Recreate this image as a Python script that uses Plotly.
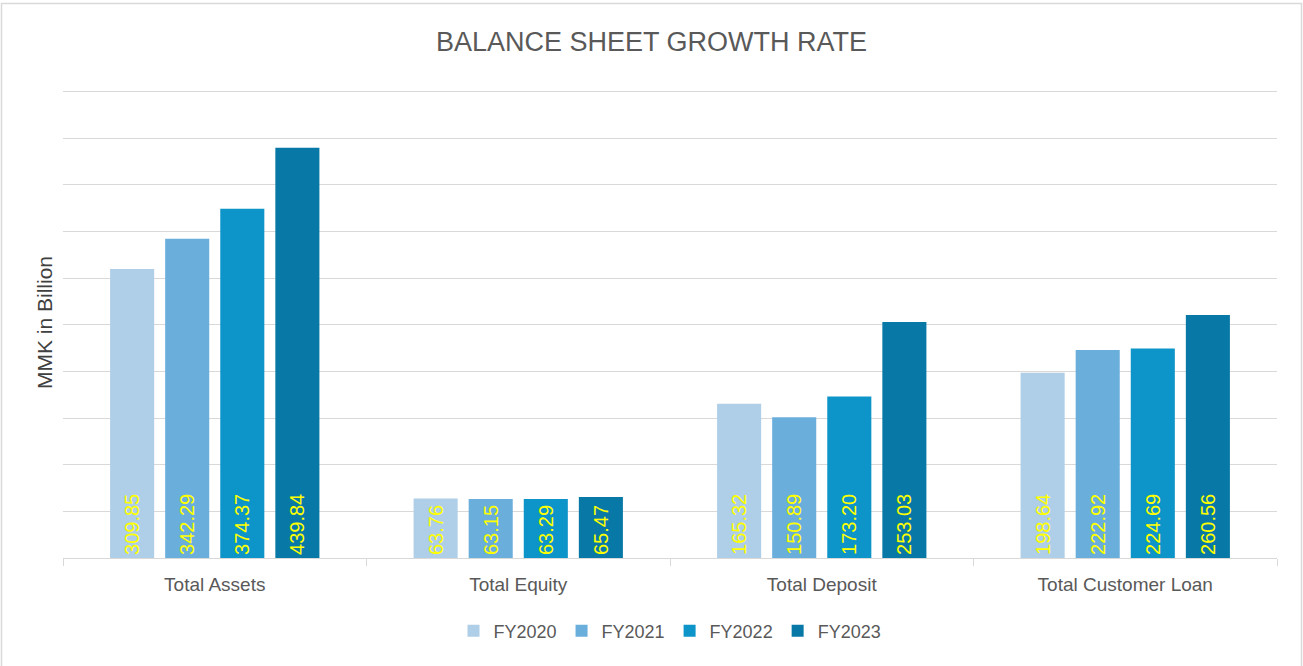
import plotly.graph_objects as go

categories = ["Total Assets", "Total Equity", "Total Deposit", "Total Customer Loan"]
series_names = ["FY2020", "FY2021", "FY2022", "FY2023"]
fy2020 = [309.85, 63.76, 165.32, 198.64]
fy2021 = [342.29, 63.15, 150.89, 222.92]
fy2022 = [374.37, 63.29, 173.20, 224.69]
fy2023 = [439.84, 65.47, 253.03, 260.56]
colors = ["#AFCEE7", "#6AAEDC", "#0D94C8", "#0879A7"]

fig = go.Figure()
for name, vals, col in zip(series_names, [fy2020, fy2021, fy2022, fy2023], colors):
    fig.add_trace(go.Bar(
        name=name, x=categories, y=vals, marker_color=col, marker_line_width=0,
        text=[f"{v:.2f}" for v in vals], textposition="inside",
        insidetextanchor="start", textangle=-90,
        textfont=dict(color="#FFFF00", size=20, family="Liberation Sans, Arial"),
        cliponaxis=False,
    ))

W, H = 1303, 666
L, R, T, B = 63, 26, 87, 108
pw, ph = W - L - R, H - T - B

fig.update_layout(
    width=W, height=H,
    margin=dict(l=L, r=R, t=T, b=B),
    paper_bgcolor="white", plot_bgcolor="white",
    barmode="group", bargap=0.274, bargroupgap=0.2,
    font=dict(family="Liberation Sans, Arial", color="#595959"),
    title=dict(text="BALANCE SHEET GROWTH RATE", x=0.5, xanchor="center",
               y=1 - 42 / H, yanchor="middle",
               font=dict(size=27, color="#595959", family="Liberation Sans, Arial")),
    legend=dict(orientation="h", x=0.5, xanchor="center", y=-(631 - 558) / ph, yanchor="middle",
                font=dict(size=18, color="#595959"), itemwidth=30, traceorder="normal"),
    xaxis=dict(showgrid=False, showline=True, linecolor="#D9D9D9", linewidth=1,
               ticks="outside", tickson="boundaries", ticklen=7, tickcolor="#D9D9D9",
               ticklabelstandoff=9,
               tickfont=dict(size=19, color="#595959")),
    yaxis=dict(range=[0, 505], tickvals=[50 * i for i in range(1, 11)], showgrid=True,
               gridcolor="#D9D9D9", gridwidth=1,
               showticklabels=False, zeroline=False,
               title=dict(text="MMK in Billion", font=dict(size=21, color="#404040"), standoff=3)),
)

fig.add_shape(type="rect", xref="paper", yref="paper",
              x0=(1.5 - L) / pw, x1=(1301.5 - L) / pw,
              y0=-(H + 5 - T - ph) / ph, y1=1 + (T - 3.5) / ph,
              line=dict(color="#D9D9D9", width=1.5), fillcolor="rgba(0,0,0,0)", layer="below")

fig.write_html("out.html", config={"displayModeBar": False},
               post_script="document.body.style.margin='0';document.body.style.overflow='hidden';")
